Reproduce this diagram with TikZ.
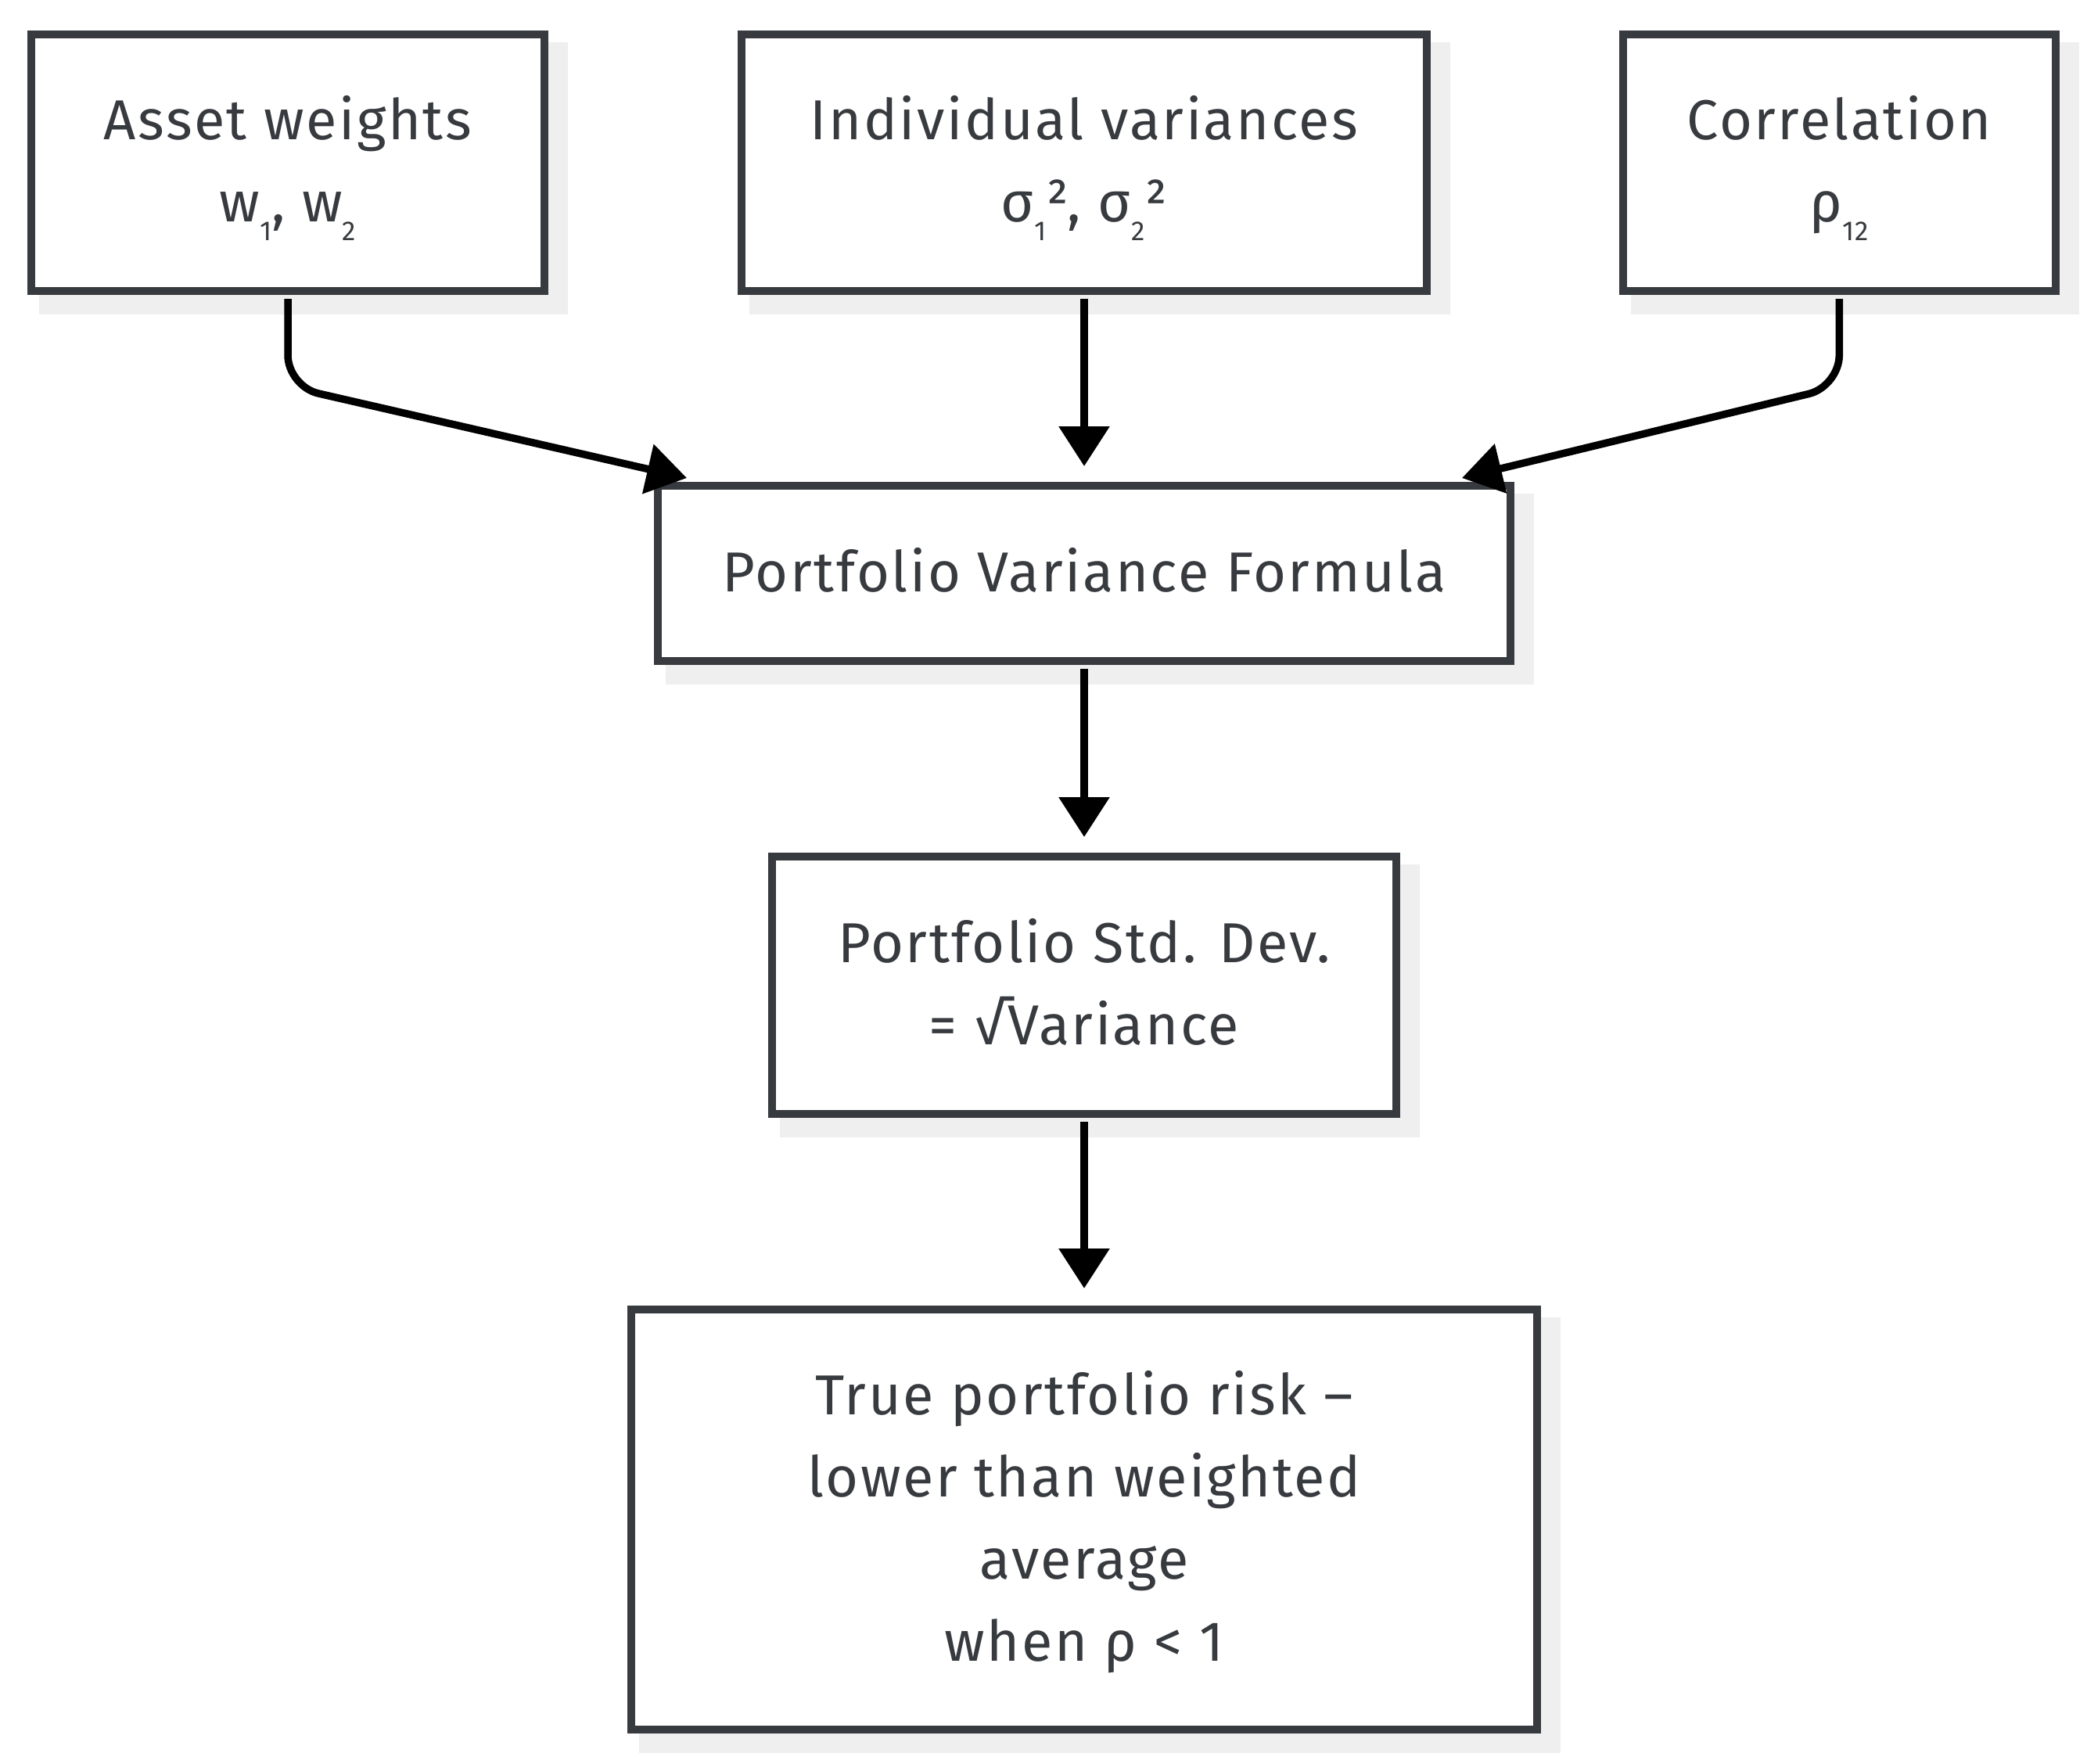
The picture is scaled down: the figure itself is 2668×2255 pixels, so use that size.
\documentclass[tikz,border=0pt]{standalone}
\usepackage{fontspec}
\setmainfont{Fira Sans}[LetterSpace=3.5]
\usetikzlibrary{arrows.meta,calc,backgrounds}
\definecolor{ink}{HTML}{373A3E}
\definecolor{shadowgray}{HTML}{EFEFEF}
\newcommand\sbx[1]{\raisebox{-11.8pt}{\fontsize{17.5pt}{17.5pt}\selectfont #1}}
\newcommand\tst{\rule{0pt}{40pt}}
\newcommand\bst{\rule[-17pt]{0pt}{17pt}}
\begin{document}
\begin{tikzpicture}[x=0.5pt,y=-0.5pt,
  box/.style={draw=ink, line width=5pt, fill=white, text=ink, align=center,
    inner sep=0pt, font=\fontsize{36pt}{52.5pt}\selectfont},
  conn/.style={line width=4.75pt, draw=black,
    -{Triangle[length=25.5pt,width=31.5pt]}, shorten <=2.5pt},
]
\useasboundingbox (0,0) rectangle (2668,2255);
\node[box, minimum width=328pt, minimum height=164pt] (A) at (368,208)
  {\tst Asset weights\\ w\sbx{1}, w\sbx{2}\bst};
\node[box, minimum width=438pt, minimum height=164pt] (B) at (1386,208)
  {\tst Individual variances\\ σ\sbx{1}², σ\sbx{2}²\bst};
\node[box, minimum width=276.4pt, minimum height=164pt] (C) at (2351.3,208)
  {\tst Correlation\\ ρ\sbx{12}\bst};
\node[box, minimum width=545pt, minimum height=112pt] (D) at (1386,733)
  {\tst Portfolio Variance Formula\bst};
\node[box, minimum width=399pt, minimum height=164.5pt] (E) at (1386,1259.5)
  {\tst Portfolio Std. Dev.\\ = √Variance\bst};
\node[box, minimum width=579pt, minimum height=268.5pt] (F) at (1386,1942.5)
  {\tst True portfolio risk –\\ lower than weighted\hspace*{10pt}\\ average\\ when ρ < 1\bst};
\begin{scope}[on background layer]
  \foreach \n in {A,B,C,D,E,F}
    \fill[shadowgray] ($(\n.north west)+(15,15)$) rectangle ($(\n.south east)+(25,25)$);
\end{scope}
\coordinate (lvl) at (0,494);
\coordinate (kA) at (A.south |- lvl);
\coordinate (kC) at (C.south |- lvl);
\coordinate (tA) at ($(D.north west)+(42,-5)$);
\coordinate (tC) at ($(D.north east)+(-67,-5)$);
\coordinate (tB) at ($(D.north)+(0,-20)$);
\coordinate (tE) at ($(E.north)+(0,-20)$);
\coordinate (tF) at ($(F.north)+(0,-22)$);
\draw[conn, rounded corners=20pt] (A.south) -- (kA) -- (tA);
\draw[conn, rounded corners=20pt] (C.south) -- (kC) -- (tC);
\draw[conn] (B.south) -- (tB);
\draw[conn] (D.south) -- (tE);
\draw[conn] (E.south) -- (tF);
\end{tikzpicture}
\end{document}
